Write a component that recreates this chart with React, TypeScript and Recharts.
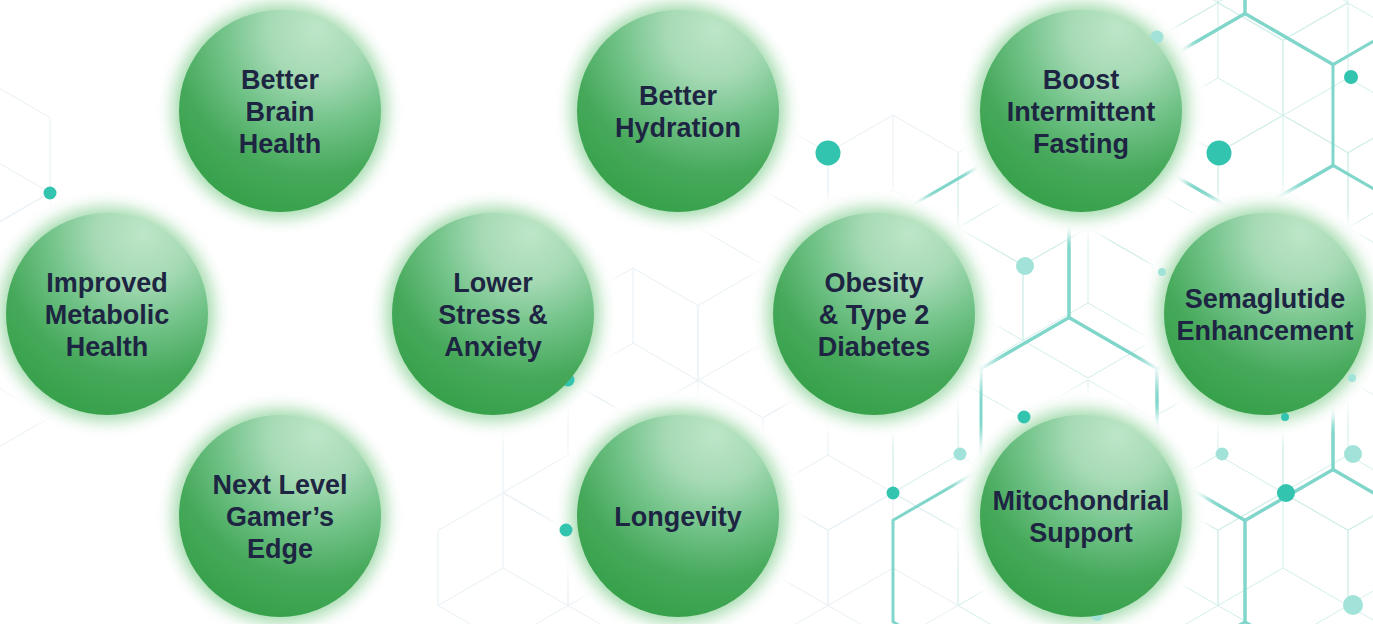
import React from "react";
import { Scatter, ScatterChart, XAxis, YAxis } from "recharts";

const WIDTH = 1373;
const HEIGHT = 624;

// benefit bubbles (data coords = page px)
const BENEFIT_LABELS = [
  ["Better", "Brain", "Health"],
  ["Better", "Hydration"],
  ["Boost", "Intermittent", "Fasting"],
  ["Improved", "Metabolic", "Health"],
  ["Lower", "Stress &", "Anxiety"],
  ["Obesity", "& Type 2", "Diabetes"],
  ["Semaglutide", "Enhancement"],
  ["Next Level", "Gamer\u2019s", "Edge"],
  ["Longevity"],
  ["Mitochondrial", "Support"],
];
const BENEFIT_X = [280, 678, 1081, 107, 493, 874, 1265, 280, 678, 1081];
const BENEFIT_Y = [111, 111, 111, 314, 314, 314, 314, 516, 516, 516];

// big teal honeycomb cells
const HEX_X = [1157, 1333, 1069, 1245, 981, 1157, 1333, 1069, 1245, 1421, 981, 1157, 1333];
const HEX_Y = [-37, -37, 115, 115, 267, 267, 267, 419, 419, 419, 571, 571, 571];

// faint cube cells
const CUBE_X = [
  -15, 50, -15,
  1153, 1283,
  1088, 1218, 1348,
  763, 893, 1023, 1153, 1283, 1413,
  958, 1088, 1218, 1348,
  503, 633, 763,
  568, 698, 828, 958, 1088, 1218, 1348,
  503, 633, 763, 893, 1023, 1153, 1283, 1413,
];
const CUBE_Y = [
  155, 268, 380,
  -35, -35,
  78, 78, 78,
  190, 190, 190, 190, 190, 190,
  303, 303, 303, 303,
  343, 343, 343,
  455, 455, 455, 455, 455, 455, 455,
  568, 568, 568, 568, 568, 568, 568, 568,
];

// teal nodes
const DOT_X = [50, 828, 1219, 1157, 1351, 1025, 1162, 1024, 960, 893, 1222, 1286, 1353, 1353, 1352, 1285, 566, 568, 1097];
const DOT_Y = [193, 153, 153, 37, 77, 266, 272, 417, 454, 493, 454, 493, 454, 605, 378, 417, 530, 380, 615];
const DOT_SIZE = [6.5, 12.5, 12.5, 6.5, 7, 9, 4, 6.5, 6.5, 6.5, 6.5, 9, 9, 10, 4, 4, 6.5, 6.5, 6];
const DOT_SOLID = [true, true, true, false, true, false, false, true, false, true, false, true, false, false, false, true, true, true, false];

const benefits = BENEFIT_LABELS.map((lines, i) => ({ x: BENEFIT_X[i], y: BENEFIT_Y[i], lines, i }));
const hexes = HEX_X.map((x, i) => ({ x, y: HEX_Y[i] }));
const cubes = CUBE_X.map((x, i) => ({ x, y: CUBE_Y[i] }));
const dots = DOT_X.map((x, i) => ({ x, y: DOT_Y[i], r: DOT_SIZE[i], solid: DOT_SOLID[i] }));

const BUBBLE_R = 101;
const HEX_R = 101.6;
const CUBE_R = 75;

function hexPoints(cx: number, cy: number, r: number) {
  const pts: [number, number][] = [];
  for (let k = 0; k < 6; k++) {
    const a = (Math.PI / 180) * (60 * k - 90);
    pts.push([cx + r * Math.cos(a), cy + r * Math.sin(a)]);
  }
  return pts;
}

function HexShape(props: any) {
  const { cx, cy } = props;
  const pts = hexPoints(cx, cy, HEX_R);
  return (
    <polygon
      points={pts.map((p) => p.join(",")).join(" ")}
      fill="none"
      stroke="#80d6ca"
      strokeWidth={3}
      strokeLinejoin="round"
    />
  );
}

function CubeShape(props: any) {
  const { cx, cy } = props;
  const pts = hexPoints(cx, cy, CUBE_R);
  const color = cx > 940 ? "#d2efea" : "#e8f0f5";
  // outline + inner Y: center -> top, lower-right, lower-left
  return (
    <g fill="none" stroke={color} strokeWidth={1}>
      <polygon points={pts.map((p) => p.join(",")).join(" ")} />
      <line x1={cx} y1={cy} x2={pts[0][0]} y2={pts[0][1]} />
      <line x1={cx} y1={cy} x2={pts[2][0]} y2={pts[2][1]} />
      <line x1={cx} y1={cy} x2={pts[4][0]} y2={pts[4][1]} />
    </g>
  );
}

function DotShape(props: any) {
  const { cx, cy, payload } = props;
  return <circle cx={cx} cy={cy} r={payload.r} fill={payload.solid ? "#33c4af" : "#a2e3d9"} />;
}

// soft white-to-green halo that hides the line work near each bubble
function Halo(props: any) {
  const { cx, cy, payload } = props;
  const id = `halo${payload.i}`;
  return (
    <g>
      <defs>
        <filter id={`${id}-w`} x="-50%" y="-50%" width="200%" height="200%">
          <feGaussianBlur stdDeviation="6" />
        </filter>
        <filter id={`${id}-g`} x="-50%" y="-50%" width="200%" height="200%">
          <feGaussianBlur stdDeviation="8" />
        </filter>
      </defs>
      <circle cx={cx} cy={cy} r={BUBBLE_R + 26} fill="#ffffff" filter={`url(#${id}-w)`} />
      <circle cx={cx} cy={cy} r={BUBBLE_R + 6} fill="#7acb88" opacity={0.7} filter={`url(#${id}-g)`} />
    </g>
  );
}

function Bubble(props: any) {
  const { cx, cy, payload } = props;
  const id = `bubble${payload.i}`;
  const lines: string[] = payload.lines;
  const n = lines.length;
  return (
    <g>
      <defs>
        <radialGradient id={`${id}-fill`} cx="0.68" cy="0.1" r="0.95" fx="0.68" fy="0.1">
          <stop offset="0" stopColor="#bde6c8" />
          <stop offset="0.25" stopColor="#a6dab5" />
          <stop offset="0.5" stopColor="#70c287" />
          <stop offset="0.75" stopColor="#46a95a" />
          <stop offset="1" stopColor="#36a04a" />
        </radialGradient>
      </defs>
      <circle cx={cx} cy={cy} r={BUBBLE_R} fill={`url(#${id}-fill)`} />
      <text
        x={cx}
        textAnchor="middle"
        fontFamily="'Liberation Sans', Arial, sans-serif"
        fontWeight={700}
        fontSize={27}
        fill="#1d2542"
      >
        {lines.map((line, k) => (
          <tspan key={k} x={cx} y={cy + 10 + (k - (n - 1) / 2) * 32}>
            {line}
          </tspan>
        ))}
      </text>
    </g>
  );
}

export default function App() {
  return (
    <div style={{ position: "absolute", left: 0, top: 0, width: WIDTH, height: HEIGHT, background: "#ffffff" }}>
      <ScatterChart width={WIDTH} height={HEIGHT} margin={{ top: 0, right: 0, bottom: 0, left: 0 }}>
        <XAxis type="number" dataKey="x" domain={[0, WIDTH]} allowDataOverflow hide />
        <YAxis type="number" dataKey="y" domain={[0, HEIGHT]} allowDataOverflow reversed hide />
        <Scatter data={cubes} shape={CubeShape} isAnimationActive={false} />
        <Scatter data={hexes} shape={HexShape} isAnimationActive={false} />
        <Scatter data={benefits} shape={Halo} isAnimationActive={false} />
        <Scatter data={dots} shape={DotShape} isAnimationActive={false} />
        <Scatter data={benefits} shape={Bubble} isAnimationActive={false} />
      </ScatterChart>
    </div>
  );
}
